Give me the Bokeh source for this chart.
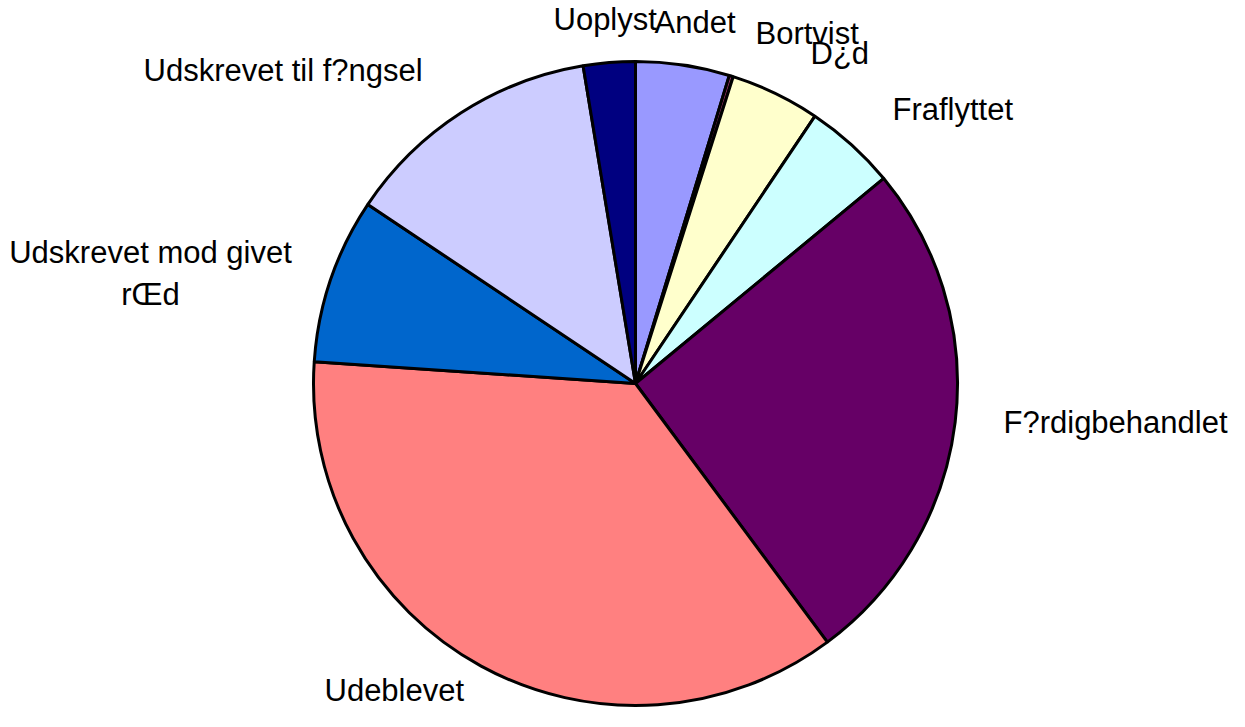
import math
from bokeh.plotting import figure
from bokeh.models import Range1d, ColumnDataSource
from bokeh.core.properties import value
from bokeh.embed import file_html
from bokeh.resources import INLINE

# ---- data (share of cases, %) ----
categories = ["Andet", "Bortvist", "D\u00bfd", "Fraflyttet", "F?rdigbehandlet",
              "Udeblevet", "Udskrevet mod givet\nr\u0152d", "Udskrevet til f?ngsel", "Uoplyst"]
shares = [4.7, 0.2, 4.5, 4.6, 25.8, 36.2, 8.3, 13.0, 2.6]
colors = ["#9999FF", "#993366", "#FFFFCC", "#CCFFFF", "#660066",
          "#FF8080", "#0066CC", "#CCCCFF", "#000080"]

# ---- layout (screen pixels) ----
W, H = 1229, 711
PAGE_H = 727
CX, CY_SCREEN, R = 643, 391, 322
BASE_FIX = 10  # renderer draws 'alphabetic' text a little lower
# label anchors: (x, baseline y on screen, align)
label_pos = [(662, 40, "left"), (763, 51, "left"), (818, 71, "left"),
             (900, 127, "left"), (1011, 440, "left"), (332, 708, "left"),
             (158, 270, "center"), (151, 88, "left"), (561, 37, "left")]

total = sum(shares)
starts, ends = [], []
acc = 0.0
for s in shares:
    a0 = acc / total * 2 * math.pi
    acc += s
    a1 = acc / total * 2 * math.pi
    starts.append(math.pi / 2 - a0)
    ends.append(math.pi / 2 - a1)

p = figure(width=W, height=H, output_backend="svg", toolbar_location=None,
           x_range=Range1d(8, 8 + W), y_range=Range1d(PAGE_H - 8 - H, PAGE_H - 8),
           x_axis_type=None, y_axis_type=None, min_border=0)
p.grid.visible = False
p.outline_line_color = None
p.background_fill_color = "white"

src = ColumnDataSource(dict(start=starts, end=ends, color=colors, cat=categories))
p.wedge(x=CX, y=PAGE_H - CY_SCREEN, radius=R, start_angle="start", end_angle="end",
        direction="clock", fill_color="color", line_color="black", line_width=3,
        source=src)

lines_x, lines_y, lines_t, lines_a = [], [], [], []
for cat, (lx, ly, al) in zip(categories, label_pos):
    for i, part in enumerate(cat.split("\n")):
        lines_x.append(lx)
        lines_y.append(PAGE_H - (ly + i * 42 - BASE_FIX))
        lines_t.append(part)
        lines_a.append(al)

tsrc = ColumnDataSource(dict(x=lines_x, y=lines_y, t=lines_t, a=lines_a))
p.text(x="x", y="y", text="t", text_align="a", text_baseline="alphabetic",
       text_font=value("Liberation Sans"), text_font_size="31px", text_color="black",
       source=tsrc)

open("out.html", "w").write(file_html(p, INLINE))
